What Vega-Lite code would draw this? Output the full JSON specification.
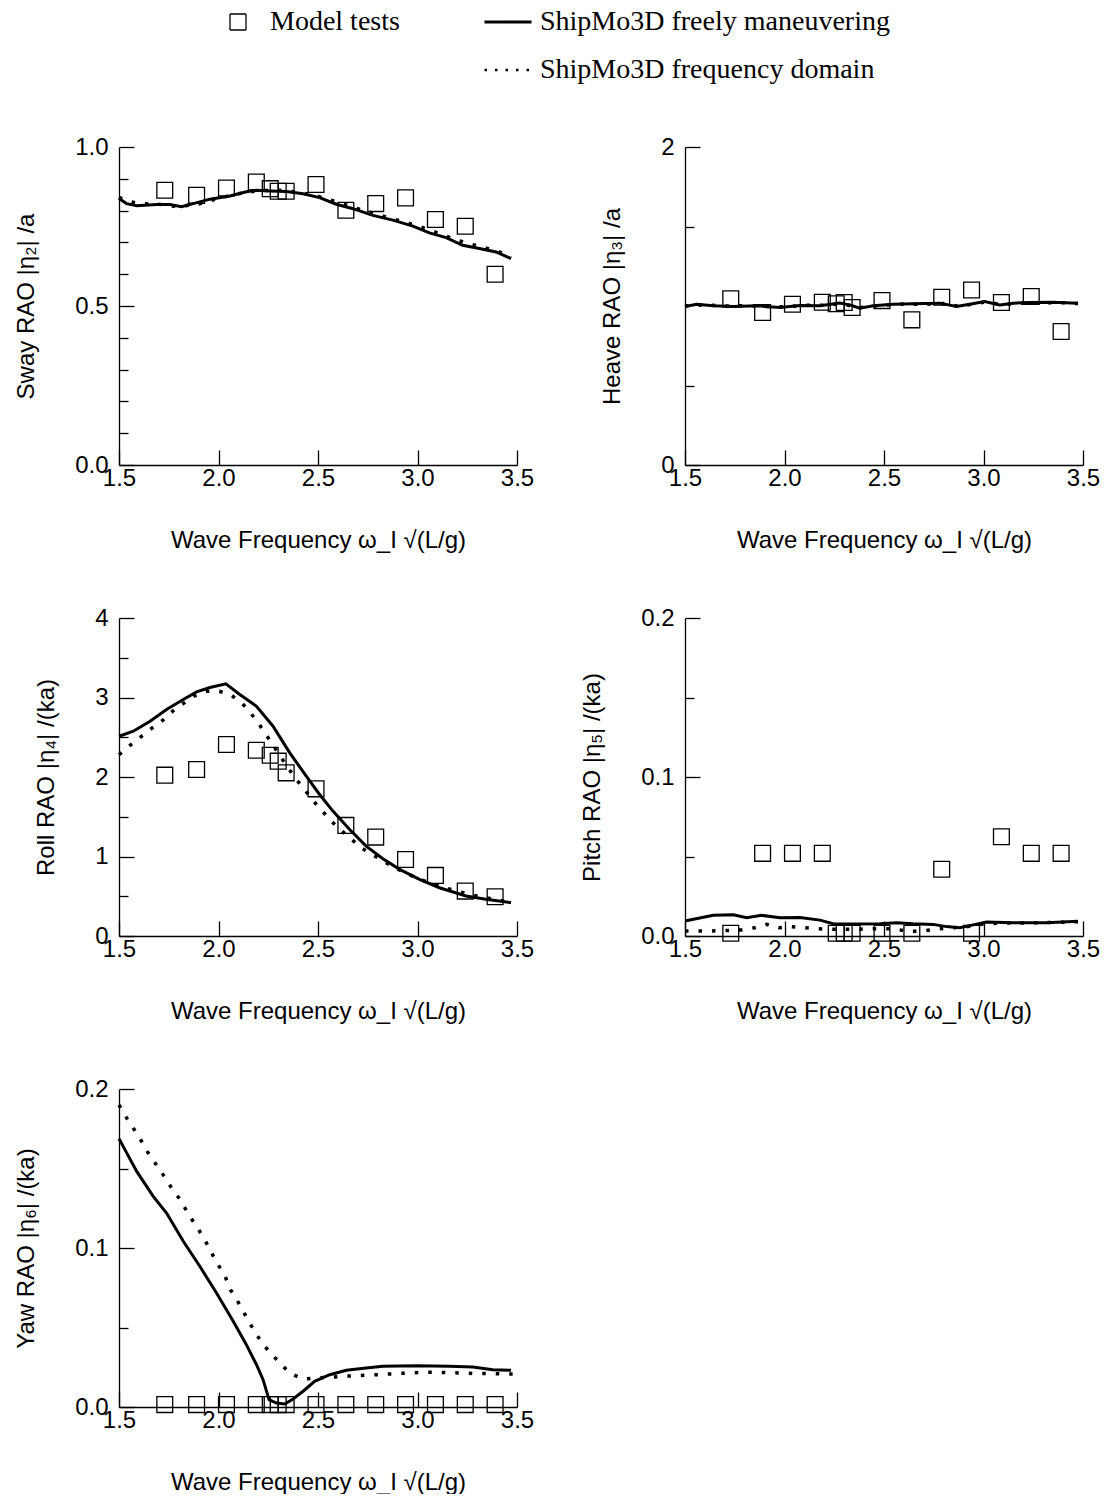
{
"$schema": "https://vega.github.io/schema/vega-lite/v6.json",
"padding": {"left": 14, "top": 8, "right": 5, "bottom": 0},
"background": "white",
"data": {"values": [
{"p":"sway","s":"M","x":1.73,"y":0.864},{"p":"sway","s":"M","x":1.89,"y":0.848},{"p":"sway","s":"M","x":2.04,"y":0.871},{"p":"sway","s":"M","x":2.19,"y":0.89},{"p":"sway","s":"M","x":2.26,"y":0.869},{"p":"sway","s":"M","x":2.3,"y":0.861},{"p":"sway","s":"M","x":2.34,"y":0.861},{"p":"sway","s":"M","x":2.49,"y":0.882},{"p":"sway","s":"M","x":2.64,"y":0.801},{"p":"sway","s":"M","x":2.79,"y":0.822},{"p":"sway","s":"M","x":2.94,"y":0.84},{"p":"sway","s":"M","x":3.09,"y":0.772},{"p":"sway","s":"M","x":3.24,"y":0.751},{"p":"sway","s":"M","x":3.39,"y":0.6},
{"p":"sway","s":"F","x":1.5,"y":0.838},{"p":"sway","s":"F","x":1.538,"y":0.822},{"p":"sway","s":"F","x":1.589,"y":0.815},{"p":"sway","s":"F","x":1.689,"y":0.819},{"p":"sway","s":"F","x":1.756,"y":0.819},{"p":"sway","s":"F","x":1.814,"y":0.812},{"p":"sway","s":"F","x":1.873,"y":0.822},{"p":"sway","s":"F","x":1.957,"y":0.836},{"p":"sway","s":"F","x":2.057,"y":0.846},{"p":"sway","s":"F","x":2.14,"y":0.859},{"p":"sway","s":"F","x":2.191,"y":0.864},{"p":"sway","s":"F","x":2.258,"y":0.862},{"p":"sway","s":"F","x":2.341,"y":0.86},{"p":"sway","s":"F","x":2.425,"y":0.853},{"p":"sway","s":"F","x":2.508,"y":0.841},{"p":"sway","s":"F","x":2.592,"y":0.82},{"p":"sway","s":"F","x":2.676,"y":0.806},{"p":"sway","s":"F","x":2.776,"y":0.785},{"p":"sway","s":"F","x":2.876,"y":0.77},{"p":"sway","s":"F","x":2.977,"y":0.751},{"p":"sway","s":"F","x":3.06,"y":0.73},{"p":"sway","s":"F","x":3.144,"y":0.715},{"p":"sway","s":"F","x":3.227,"y":0.691},{"p":"sway","s":"F","x":3.311,"y":0.681},{"p":"sway","s":"F","x":3.395,"y":0.67},{"p":"sway","s":"F","x":3.47,"y":0.649},
{"p":"sway","s":"D","x":1.5,"y":0.842},{"p":"sway","s":"D","x":1.55,"y":0.829},{"p":"sway","s":"D","x":1.6,"y":0.822},{"p":"sway","s":"D","x":1.7,"y":0.82},{"p":"sway","s":"D","x":1.8,"y":0.812},{"p":"sway","s":"D","x":1.9,"y":0.821},{"p":"sway","s":"D","x":2.0,"y":0.839},{"p":"sway","s":"D","x":2.1,"y":0.853},{"p":"sway","s":"D","x":2.2,"y":0.863},{"p":"sway","s":"D","x":2.3,"y":0.864},{"p":"sway","s":"D","x":2.4,"y":0.858},{"p":"sway","s":"D","x":2.5,"y":0.845},{"p":"sway","s":"D","x":2.6,"y":0.826},{"p":"sway","s":"D","x":2.7,"y":0.806},{"p":"sway","s":"D","x":2.8,"y":0.787},{"p":"sway","s":"D","x":2.9,"y":0.77},{"p":"sway","s":"D","x":3.0,"y":0.752},{"p":"sway","s":"D","x":3.1,"y":0.73},{"p":"sway","s":"D","x":3.2,"y":0.707},{"p":"sway","s":"D","x":3.3,"y":0.689},{"p":"sway","s":"D","x":3.4,"y":0.673},{"p":"sway","s":"D","x":3.47,"y":0.652},
{"p":"heave","s":"M","x":1.73,"y":1.045},{"p":"heave","s":"M","x":1.89,"y":0.959},{"p":"heave","s":"M","x":2.04,"y":1.011},{"p":"heave","s":"M","x":2.19,"y":1.024},{"p":"heave","s":"M","x":2.26,"y":1.014},{"p":"heave","s":"M","x":2.3,"y":1.022},{"p":"heave","s":"M","x":2.34,"y":0.991},{"p":"heave","s":"M","x":2.49,"y":1.034},{"p":"heave","s":"M","x":2.64,"y":0.913},{"p":"heave","s":"M","x":2.79,"y":1.055},{"p":"heave","s":"M","x":2.94,"y":1.101},{"p":"heave","s":"M","x":3.09,"y":1.022},{"p":"heave","s":"M","x":3.24,"y":1.06},{"p":"heave","s":"M","x":3.39,"y":0.84},
{"p":"heave","s":"F","x":1.5,"y":0.997},{"p":"heave","s":"F","x":1.559,"y":1.011},{"p":"heave","s":"F","x":1.642,"y":1.001},{"p":"heave","s":"F","x":1.743,"y":0.997},{"p":"heave","s":"F","x":1.86,"y":1.001},{"p":"heave","s":"F","x":1.977,"y":0.991},{"p":"heave","s":"F","x":2.077,"y":1.003},{"p":"heave","s":"F","x":2.178,"y":1.001},{"p":"heave","s":"F","x":2.278,"y":1.018},{"p":"heave","s":"F","x":2.328,"y":1.007},{"p":"heave","s":"F","x":2.379,"y":0.986},{"p":"heave","s":"F","x":2.446,"y":1.001},{"p":"heave","s":"F","x":2.546,"y":1.011},{"p":"heave","s":"F","x":2.646,"y":1.014},{"p":"heave","s":"F","x":2.78,"y":1.018},{"p":"heave","s":"F","x":2.864,"y":0.997},{"p":"heave","s":"F","x":2.931,"y":1.011},{"p":"heave","s":"F","x":3.006,"y":1.028},{"p":"heave","s":"F","x":3.082,"y":1.007},{"p":"heave","s":"F","x":3.149,"y":1.018},{"p":"heave","s":"F","x":3.232,"y":1.022},{"p":"heave","s":"F","x":3.349,"y":1.024},{"p":"heave","s":"F","x":3.475,"y":1.018},
{"p":"heave","s":"D","x":1.5,"y":1.0},{"p":"heave","s":"D","x":1.6,"y":1.008},{"p":"heave","s":"D","x":1.7,"y":1.0},{"p":"heave","s":"D","x":1.8,"y":1.002},{"p":"heave","s":"D","x":1.9,"y":0.997},{"p":"heave","s":"D","x":2.0,"y":0.995},{"p":"heave","s":"D","x":2.1,"y":1.004},{"p":"heave","s":"D","x":2.2,"y":1.005},{"p":"heave","s":"D","x":2.28,"y":1.014},{"p":"heave","s":"D","x":2.38,"y":0.99},{"p":"heave","s":"D","x":2.5,"y":1.006},{"p":"heave","s":"D","x":2.6,"y":1.012},{"p":"heave","s":"D","x":2.7,"y":1.011},{"p":"heave","s":"D","x":2.8,"y":1.015},{"p":"heave","s":"D","x":2.88,"y":0.998},{"p":"heave","s":"D","x":3.0,"y":1.024},{"p":"heave","s":"D","x":3.1,"y":1.01},{"p":"heave","s":"D","x":3.2,"y":1.018},{"p":"heave","s":"D","x":3.3,"y":1.021},{"p":"heave","s":"D","x":3.4,"y":1.021},{"p":"heave","s":"D","x":3.475,"y":1.015},
{"p":"roll","s":"M","x":1.73,"y":2.023},{"p":"roll","s":"M","x":1.89,"y":2.094},{"p":"roll","s":"M","x":2.04,"y":2.408},{"p":"roll","s":"M","x":2.19,"y":2.337},{"p":"roll","s":"M","x":2.26,"y":2.274},{"p":"roll","s":"M","x":2.3,"y":2.199},{"p":"roll","s":"M","x":2.34,"y":2.052},{"p":"roll","s":"M","x":2.49,"y":1.851},{"p":"roll","s":"M","x":2.64,"y":1.391},{"p":"roll","s":"M","x":2.79,"y":1.244},{"p":"roll","s":"M","x":2.94,"y":0.963},{"p":"roll","s":"M","x":3.09,"y":0.762},{"p":"roll","s":"M","x":3.24,"y":0.565},{"p":"roll","s":"M","x":3.39,"y":0.494},
{"p":"roll","s":"F","x":1.5,"y":2.513},{"p":"roll","s":"F","x":1.572,"y":2.576},{"p":"roll","s":"F","x":1.656,"y":2.702},{"p":"roll","s":"F","x":1.739,"y":2.848},{"p":"roll","s":"F","x":1.823,"y":2.974},{"p":"roll","s":"F","x":1.89,"y":3.07},{"p":"roll","s":"F","x":1.957,"y":3.125},{"p":"roll","s":"F","x":2.037,"y":3.171},{"p":"roll","s":"F","x":2.107,"y":3.037},{"p":"roll","s":"F","x":2.191,"y":2.89},{"p":"roll","s":"F","x":2.274,"y":2.639},{"p":"roll","s":"F","x":2.358,"y":2.304},{"p":"roll","s":"F","x":2.441,"y":2.01},{"p":"roll","s":"F","x":2.508,"y":1.78},{"p":"roll","s":"F","x":2.575,"y":1.571},{"p":"roll","s":"F","x":2.659,"y":1.34},{"p":"roll","s":"F","x":2.742,"y":1.131},{"p":"roll","s":"F","x":2.826,"y":0.972},{"p":"roll","s":"F","x":2.91,"y":0.838},{"p":"roll","s":"F","x":3.01,"y":0.712},{"p":"roll","s":"F","x":3.11,"y":0.607},{"p":"roll","s":"F","x":3.244,"y":0.503},{"p":"roll","s":"F","x":3.344,"y":0.461},{"p":"roll","s":"F","x":3.47,"y":0.419},
{"p":"roll","s":"D","x":1.5,"y":2.28},{"p":"roll","s":"D","x":1.563,"y":2.413},{"p":"roll","s":"D","x":1.616,"y":2.518},{"p":"roll","s":"D","x":1.67,"y":2.623},{"p":"roll","s":"D","x":1.724,"y":2.72},{"p":"roll","s":"D","x":1.772,"y":2.833},{"p":"roll","s":"D","x":1.826,"y":2.93},{"p":"roll","s":"D","x":1.88,"y":3.022},{"p":"roll","s":"D","x":1.942,"y":3.078},{"p":"roll","s":"D","x":2.005,"y":3.078},{"p":"roll","s":"D","x":2.068,"y":3.022},{"p":"roll","s":"D","x":2.121,"y":2.921},{"p":"roll","s":"D","x":2.166,"y":2.791},{"p":"roll","s":"D","x":2.207,"y":2.653},{"p":"roll","s":"D","x":2.243,"y":2.518},{"p":"roll","s":"D","x":2.282,"y":2.371},{"p":"roll","s":"D","x":2.318,"y":2.233},{"p":"roll","s":"D","x":2.354,"y":2.099},{"p":"roll","s":"D","x":2.39,"y":1.973},{"p":"roll","s":"D","x":2.435,"y":1.834},{"p":"roll","s":"D","x":2.476,"y":1.7},{"p":"roll","s":"D","x":2.521,"y":1.574},{"p":"roll","s":"D","x":2.565,"y":1.448},{"p":"roll","s":"D","x":2.614,"y":1.335},{"p":"roll","s":"D","x":2.664,"y":1.226},{"p":"roll","s":"D","x":2.716,"y":1.112},{"p":"roll","s":"D","x":2.769,"y":1.028},{"p":"roll","s":"D","x":2.829,"y":0.944},{"p":"roll","s":"D","x":2.882,"y":0.86},{"p":"roll","s":"D","x":2.945,"y":0.789},{"p":"roll","s":"D","x":3.008,"y":0.714},{"p":"roll","s":"D","x":3.07,"y":0.663},{"p":"roll","s":"D","x":3.133,"y":0.609},{"p":"roll","s":"D","x":3.196,"y":0.567},{"p":"roll","s":"D","x":3.267,"y":0.52},{"p":"roll","s":"D","x":3.339,"y":0.483},{"p":"roll","s":"D","x":3.411,"y":0.449},{"p":"roll","s":"D","x":3.47,"y":0.42},
{"p":"pitch","s":"M","x":1.73,"y":0.0017},{"p":"pitch","s":"M","x":1.89,"y":0.052},{"p":"pitch","s":"M","x":2.04,"y":0.052},{"p":"pitch","s":"M","x":2.19,"y":0.052},{"p":"pitch","s":"M","x":2.26,"y":0.0017},{"p":"pitch","s":"M","x":2.3,"y":0.0017},{"p":"pitch","s":"M","x":2.34,"y":0.0017},{"p":"pitch","s":"M","x":2.49,"y":0.0017},{"p":"pitch","s":"M","x":2.64,"y":0.0017},{"p":"pitch","s":"M","x":2.79,"y":0.042},{"p":"pitch","s":"M","x":2.94,"y":0.0017},{"p":"pitch","s":"M","x":3.09,"y":0.0624},{"p":"pitch","s":"M","x":3.24,"y":0.052},{"p":"pitch","s":"M","x":3.39,"y":0.052},
{"p":"pitch","s":"F","x":1.5,"y":0.0094},{"p":"pitch","s":"F","x":1.642,"y":0.013},{"p":"pitch","s":"F","x":1.743,"y":0.0134},{"p":"pitch","s":"F","x":1.81,"y":0.0115},{"p":"pitch","s":"F","x":1.885,"y":0.013},{"p":"pitch","s":"F","x":1.977,"y":0.0115},{"p":"pitch","s":"F","x":2.077,"y":0.0117},{"p":"pitch","s":"F","x":2.178,"y":0.01},{"p":"pitch","s":"F","x":2.245,"y":0.0077},{"p":"pitch","s":"F","x":2.362,"y":0.0075},{"p":"pitch","s":"F","x":2.479,"y":0.0077},{"p":"pitch","s":"F","x":2.563,"y":0.0084},{"p":"pitch","s":"F","x":2.646,"y":0.0077},{"p":"pitch","s":"F","x":2.747,"y":0.0073},{"p":"pitch","s":"F","x":2.814,"y":0.0059},{"p":"pitch","s":"F","x":2.881,"y":0.0052},{"p":"pitch","s":"F","x":2.948,"y":0.007},{"p":"pitch","s":"F","x":3.015,"y":0.0088},{"p":"pitch","s":"F","x":3.149,"y":0.0084},{"p":"pitch","s":"F","x":3.316,"y":0.0084},{"p":"pitch","s":"F","x":3.475,"y":0.0092},
{"p":"pitch","s":"D","x":1.5,"y":0.0031},{"p":"pitch","s":"D","x":1.6,"y":0.0031},{"p":"pitch","s":"D","x":1.7,"y":0.0034},{"p":"pitch","s":"D","x":1.78,"y":0.0038},{"p":"pitch","s":"D","x":1.85,"y":0.0052},{"p":"pitch","s":"D","x":1.91,"y":0.0073},{"p":"pitch","s":"D","x":1.97,"y":0.0052},{"p":"pitch","s":"D","x":2.03,"y":0.0059},{"p":"pitch","s":"D","x":2.1,"y":0.0052},{"p":"pitch","s":"D","x":2.16,"y":0.0046},{"p":"pitch","s":"D","x":2.25,"y":0.0042},{"p":"pitch","s":"D","x":2.35,"y":0.0042},{"p":"pitch","s":"D","x":2.45,"y":0.0046},{"p":"pitch","s":"D","x":2.55,"y":0.0046},{"p":"pitch","s":"D","x":2.62,"y":0.0028},{"p":"pitch","s":"D","x":2.7,"y":0.0032},{"p":"pitch","s":"D","x":2.78,"y":0.0046},{"p":"pitch","s":"D","x":2.85,"y":0.0052},{"p":"pitch","s":"D","x":2.92,"y":0.0059},{"p":"pitch","s":"D","x":3.0,"y":0.0075},{"p":"pitch","s":"D","x":3.1,"y":0.0082},{"p":"pitch","s":"D","x":3.2,"y":0.0082},{"p":"pitch","s":"D","x":3.3,"y":0.0084},{"p":"pitch","s":"D","x":3.4,"y":0.0086},{"p":"pitch","s":"D","x":3.475,"y":0.009},
{"p":"yaw","s":"M","x":1.73,"y":0.0015},{"p":"yaw","s":"M","x":1.89,"y":0.0015},{"p":"yaw","s":"M","x":2.04,"y":0.0015},{"p":"yaw","s":"M","x":2.19,"y":0.0015},{"p":"yaw","s":"M","x":2.26,"y":0.0015},{"p":"yaw","s":"M","x":2.3,"y":0.0015},{"p":"yaw","s":"M","x":2.34,"y":0.0015},{"p":"yaw","s":"M","x":2.49,"y":0.0015},{"p":"yaw","s":"M","x":2.64,"y":0.0015},{"p":"yaw","s":"M","x":2.79,"y":0.0015},{"p":"yaw","s":"M","x":2.94,"y":0.0015},{"p":"yaw","s":"M","x":3.09,"y":0.0015},{"p":"yaw","s":"M","x":3.24,"y":0.0015},{"p":"yaw","s":"M","x":3.39,"y":0.0015},
{"p":"yaw","s":"F","x":1.5,"y":0.1688},{"p":"yaw","s":"F","x":1.589,"y":0.1482},{"p":"yaw","s":"F","x":1.672,"y":0.1325},{"p":"yaw","s":"F","x":1.739,"y":0.122},{"p":"yaw","s":"F","x":1.823,"y":0.1042},{"p":"yaw","s":"F","x":1.906,"y":0.0885},{"p":"yaw","s":"F","x":1.99,"y":0.0717},{"p":"yaw","s":"F","x":2.074,"y":0.0539},{"p":"yaw","s":"F","x":2.14,"y":0.0392},{"p":"yaw","s":"F","x":2.191,"y":0.0266},{"p":"yaw","s":"F","x":2.224,"y":0.0172},{"p":"yaw","s":"F","x":2.254,"y":0.0046},{"p":"yaw","s":"F","x":2.291,"y":0.0025},{"p":"yaw","s":"F","x":2.333,"y":0.0019},{"p":"yaw","s":"F","x":2.375,"y":0.005},{"p":"yaw","s":"F","x":2.425,"y":0.0099},{"p":"yaw","s":"F","x":2.483,"y":0.0161},{"p":"yaw","s":"F","x":2.559,"y":0.0203},{"p":"yaw","s":"F","x":2.642,"y":0.0231},{"p":"yaw","s":"F","x":2.742,"y":0.0245},{"p":"yaw","s":"F","x":2.826,"y":0.0256},{"p":"yaw","s":"F","x":2.993,"y":0.026},{"p":"yaw","s":"F","x":3.161,"y":0.0256},{"p":"yaw","s":"F","x":3.278,"y":0.0252},{"p":"yaw","s":"F","x":3.378,"y":0.0235},{"p":"yaw","s":"F","x":3.47,"y":0.0231},
{"p":"yaw","s":"D","x":1.5,"y":0.19},{"p":"yaw","s":"D","x":1.538,"y":0.1818},{"p":"yaw","s":"D","x":1.577,"y":0.1744},{"p":"yaw","s":"D","x":1.614,"y":0.167},{"p":"yaw","s":"D","x":1.647,"y":0.1597},{"p":"yaw","s":"D","x":1.684,"y":0.153},{"p":"yaw","s":"D","x":1.722,"y":0.146},{"p":"yaw","s":"D","x":1.759,"y":0.1388},{"p":"yaw","s":"D","x":1.798,"y":0.132},{"p":"yaw","s":"D","x":1.831,"y":0.1252},{"p":"yaw","s":"D","x":1.865,"y":0.1182},{"p":"yaw","s":"D","x":1.903,"y":0.111},{"p":"yaw","s":"D","x":1.935,"y":0.1042},{"p":"yaw","s":"D","x":1.965,"y":0.0969},{"p":"yaw","s":"D","x":1.998,"y":0.0895},{"p":"yaw","s":"D","x":2.032,"y":0.0826},{"p":"yaw","s":"D","x":2.06,"y":0.0738},{"p":"yaw","s":"D","x":2.094,"y":0.0671},{"p":"yaw","s":"D","x":2.124,"y":0.0602},{"p":"yaw","s":"D","x":2.157,"y":0.0528},{"p":"yaw","s":"D","x":2.191,"y":0.0455},{"p":"yaw","s":"D","x":2.232,"y":0.0382},{"p":"yaw","s":"D","x":2.274,"y":0.0323},{"p":"yaw","s":"D","x":2.32,"y":0.026},{"p":"yaw","s":"D","x":2.366,"y":0.0208},{"p":"yaw","s":"D","x":2.425,"y":0.0176},{"p":"yaw","s":"D","x":2.492,"y":0.0182},{"p":"yaw","s":"D","x":2.559,"y":0.0187},{"p":"yaw","s":"D","x":2.625,"y":0.0193},{"p":"yaw","s":"D","x":2.692,"y":0.0197},{"p":"yaw","s":"D","x":2.759,"y":0.0201},{"p":"yaw","s":"D","x":2.826,"y":0.0205},{"p":"yaw","s":"D","x":2.893,"y":0.021},{"p":"yaw","s":"D","x":2.96,"y":0.0214},{"p":"yaw","s":"D","x":3.027,"y":0.0218},{"p":"yaw","s":"D","x":3.094,"y":0.0218},{"p":"yaw","s":"D","x":3.161,"y":0.0216},{"p":"yaw","s":"D","x":3.227,"y":0.0214},{"p":"yaw","s":"D","x":3.294,"y":0.021},{"p":"yaw","s":"D","x":3.361,"y":0.021},{"p":"yaw","s":"D","x":3.428,"y":0.0208},{"p":"yaw","s":"D","x":3.478,"y":0.0208}
]},
"columns": 2,
"spacing": {"row": 153, "column": 168},
"bounds": "flush",
"resolve": {"scale": {"color": "shared"}, "legend": {"color": "shared"}},
"concat": [
{
 "width": 398, "height": 318,
 "transform": [{"filter": "datum.p === 'sway'"}],
 "encoding": {
  "x": {"field": "x", "type": "quantitative", "scale": {"domain": [1.5, 3.5], "nice": false, "zero": false}, "axis": {"values": [1.5, 2, 2.5, 3, 3.5], "format": ".1f", "tickSize": -15, "labelPadding": 16, "title": "Wave Frequency ω_I √(L/g)", "titleFontSize": 24, "titlePadding": 38}},
  "color": {"field": "s", "type": "nominal", "scale": {"domain": ["M", "_", "F", "D"], "range": ["black", "white", "black", "black"]},
   "legend": {"orient": "none", "legendX": 105, "legendY": -139, "columns": 2, "columnPadding": 78, "rowPadding": 20, "title": null,
    "symbolSize": 2209, "symbolType": "stroke", "labelOffset": 18, "labelLimit": 0,
    "labelExpr": "datum.value === 'M' ? 'Model tests' : datum.value === 'F' ? 'ShipMo3D freely maneuvering' : datum.value === 'D' ? 'ShipMo3D frequency domain' : ''",
    "encode": {"symbols": {"update": {
      "shape": {"signal": "datum.value === 'M' ? 'square' : 'stroke'"},
      "size": {"signal": "datum.value === 'M' ? 256 : 2209"},
      "strokeWidth": {"signal": "datum.value === 'M' ? 1.3 : datum.value === 'D' ? 2.5 : 3"},
      "strokeDash": {"signal": "datum.value === 'D' ? [2.5, 8] : [1, 0]"},
      "fill": {"value": "transparent"},
      "opacity": {"value": 1}
    }}}}}
 },
 "layer": [
  {"transform": [{"filter": "datum.s === 'D'"}], "mark": {"type": "line", "strokeWidth": 3.5, "strokeDash": [3.5, 10]}, "encoding": {"y": {"field": "y", "type": "quantitative", "scale": {"domain": [0, 1], "nice": false}, "axis": null}}},
  {"transform": [{"filter": "datum.s === 'F'"}], "mark": {"type": "line", "strokeWidth": 3}, "encoding": {"y": {"field": "y", "type": "quantitative", "scale": {"domain": [0, 1], "nice": false}, "axis": null}}},
  {"transform": [{"filter": "datum.s === 'M'"}], "mark": {"type": "point", "shape": "square", "filled": false, "size": 250, "strokeWidth": 1.3, "opacity": 1}, "encoding": {"y": {"field": "y", "type": "quantitative", "scale": {"domain": [0, 1], "nice": false}, "axis": {"orient": "left", "values": [0, 0.5, 1], "format": ".1f", "tickSize": -15, "labelPadding": 26, "title": "Sway RAO |η₂| /a", "titleFontSize": 24, "titlePadding": 36}}}},
  {"mark": {"type": "point", "opacity": 0}, "encoding": {"y": {"field": "y", "type": "quantitative", "scale": {"domain": [0, 1], "nice": false}, "axis": {"orient": "left", "values": [0.1, 0.2, 0.3, 0.4, 0.6, 0.7, 0.8, 0.9], "labels": false, "domain": false, "tickSize": -9, "title": null}}}}
 ],
 "resolve": {"axis": {"y": "independent"}}
},
{
 "width": 398, "height": 318,
 "transform": [{"filter": "datum.p === 'heave'"}],
 "encoding": {
  "x": {"field": "x", "type": "quantitative", "scale": {"domain": [1.5, 3.5], "nice": false, "zero": false}, "axis": {"values": [1.5, 2, 2.5, 3, 3.5], "format": ".1f", "tickSize": -15, "labelPadding": 16, "title": "Wave Frequency ω_I √(L/g)", "titleFontSize": 24, "titlePadding": 38}},
  "color": {"field": "s", "type": "nominal", "scale": {"domain": ["M", "_", "F", "D"], "range": ["black", "white", "black", "black"]}}
 },
 "layer": [
  {"transform": [{"filter": "datum.s === 'D'"}], "mark": {"type": "line", "strokeWidth": 3.5, "strokeDash": [3.5, 10]}, "encoding": {"y": {"field": "y", "type": "quantitative", "scale": {"domain": [0, 2], "nice": false}, "axis": null}}},
  {"transform": [{"filter": "datum.s === 'F'"}], "mark": {"type": "line", "strokeWidth": 3}, "encoding": {"y": {"field": "y", "type": "quantitative", "scale": {"domain": [0, 2], "nice": false}, "axis": null}}},
  {"transform": [{"filter": "datum.s === 'M'"}], "mark": {"type": "point", "shape": "square", "filled": false, "size": 250, "strokeWidth": 1.3, "opacity": 1}, "encoding": {"y": {"field": "y", "type": "quantitative", "scale": {"domain": [0, 2], "nice": false}, "axis": {"orient": "left", "values": [0, 1, 2], "format": "d", "tickSize": -15, "labelPadding": 26, "title": "Heave RAO |η₃| /a", "titleFontSize": 24, "titlePadding": 36}}}},
  {"mark": {"type": "point", "opacity": 0}, "encoding": {"y": {"field": "y", "type": "quantitative", "scale": {"domain": [0, 2], "nice": false}, "axis": {"orient": "left", "values": [0.5, 1.5], "labels": false, "domain": false, "tickSize": -9, "title": null}}}}
 ],
 "resolve": {"axis": {"y": "independent"}}
},
{
 "width": 398, "height": 318,
 "transform": [{"filter": "datum.p === 'roll'"}],
 "encoding": {
  "x": {"field": "x", "type": "quantitative", "scale": {"domain": [1.5, 3.5], "nice": false, "zero": false}, "axis": {"values": [1.5, 2, 2.5, 3, 3.5], "format": ".1f", "tickSize": -15, "labelPadding": 16, "title": "Wave Frequency ω_I √(L/g)", "titleFontSize": 24, "titlePadding": 38}},
  "color": {"field": "s", "type": "nominal", "scale": {"domain": ["M", "_", "F", "D"], "range": ["black", "white", "black", "black"]}}
 },
 "layer": [
  {"transform": [{"filter": "datum.s === 'D'"}], "mark": {"type": "line", "strokeWidth": 3.5, "strokeDash": [3.5, 10]}, "encoding": {"y": {"field": "y", "type": "quantitative", "scale": {"domain": [0, 4], "nice": false}, "axis": null}}},
  {"transform": [{"filter": "datum.s === 'F'"}], "mark": {"type": "line", "strokeWidth": 3}, "encoding": {"y": {"field": "y", "type": "quantitative", "scale": {"domain": [0, 4], "nice": false}, "axis": null}}},
  {"transform": [{"filter": "datum.s === 'M'"}], "mark": {"type": "point", "shape": "square", "filled": false, "size": 250, "strokeWidth": 1.3, "opacity": 1}, "encoding": {"y": {"field": "y", "type": "quantitative", "scale": {"domain": [0, 4], "nice": false}, "axis": {"orient": "left", "values": [0, 1, 2, 3, 4], "format": "d", "tickSize": -15, "labelPadding": 26, "title": "Roll RAO |η₄| /(ka)", "titleFontSize": 24, "titlePadding": 36}}}},
  {"mark": {"type": "point", "opacity": 0}, "encoding": {"y": {"field": "y", "type": "quantitative", "scale": {"domain": [0, 4], "nice": false}, "axis": {"orient": "left", "values": [0.5, 1.5, 2.5, 3.5], "labels": false, "domain": false, "tickSize": -9, "title": null}}}}
 ],
 "resolve": {"axis": {"y": "independent"}}
},
{
 "width": 398, "height": 318,
 "transform": [{"filter": "datum.p === 'pitch'"}],
 "encoding": {
  "x": {"field": "x", "type": "quantitative", "scale": {"domain": [1.5, 3.5], "nice": false, "zero": false}, "axis": {"values": [1.5, 2, 2.5, 3, 3.5], "format": ".1f", "tickSize": -15, "labelPadding": 16, "title": "Wave Frequency ω_I √(L/g)", "titleFontSize": 24, "titlePadding": 38}},
  "color": {"field": "s", "type": "nominal", "scale": {"domain": ["M", "_", "F", "D"], "range": ["black", "white", "black", "black"]}}
 },
 "layer": [
  {"transform": [{"filter": "datum.s === 'D'"}], "mark": {"type": "line", "strokeWidth": 3.5, "strokeDash": [3.5, 10]}, "encoding": {"y": {"field": "y", "type": "quantitative", "scale": {"domain": [0, 0.2], "nice": false}, "axis": null}}},
  {"transform": [{"filter": "datum.s === 'F'"}], "mark": {"type": "line", "strokeWidth": 3}, "encoding": {"y": {"field": "y", "type": "quantitative", "scale": {"domain": [0, 0.2], "nice": false}, "axis": null}}},
  {"transform": [{"filter": "datum.s === 'M'"}], "mark": {"type": "point", "shape": "square", "filled": false, "size": 250, "strokeWidth": 1.3, "opacity": 1}, "encoding": {"y": {"field": "y", "type": "quantitative", "scale": {"domain": [0, 0.2], "nice": false}, "axis": {"orient": "left", "values": [0, 0.1, 0.2], "format": ".1f", "tickSize": -15, "labelPadding": 26, "title": "Pitch RAO |η₅| /(ka)", "titleFontSize": 24, "titlePadding": 36}}}},
  {"mark": {"type": "point", "opacity": 0}, "encoding": {"y": {"field": "y", "type": "quantitative", "scale": {"domain": [0, 0.2], "nice": false}, "axis": {"orient": "left", "values": [0.05, 0.15], "labels": false, "domain": false, "tickSize": -9, "title": null}}}}
 ],
 "resolve": {"axis": {"y": "independent"}}
},
{
 "width": 398, "height": 318,
 "transform": [{"filter": "datum.p === 'yaw'"}],
 "encoding": {
  "x": {"field": "x", "type": "quantitative", "scale": {"domain": [1.5, 3.5], "nice": false, "zero": false}, "axis": {"values": [1.5, 2, 2.5, 3, 3.5], "format": ".1f", "tickSize": -15, "labelPadding": 16, "title": "Wave Frequency ω_I √(L/g)", "titleFontSize": 24, "titlePadding": 38}},
  "color": {"field": "s", "type": "nominal", "scale": {"domain": ["M", "_", "F", "D"], "range": ["black", "white", "black", "black"]}}
 },
 "layer": [
  {"transform": [{"filter": "datum.s === 'D'"}], "mark": {"type": "line", "strokeWidth": 3.5, "strokeDash": [3.5, 10]}, "encoding": {"y": {"field": "y", "type": "quantitative", "scale": {"domain": [0, 0.2], "nice": false}, "axis": null}}},
  {"transform": [{"filter": "datum.s === 'F'"}], "mark": {"type": "line", "strokeWidth": 3}, "encoding": {"y": {"field": "y", "type": "quantitative", "scale": {"domain": [0, 0.2], "nice": false}, "axis": null}}},
  {"transform": [{"filter": "datum.s === 'M'"}], "mark": {"type": "point", "shape": "square", "filled": false, "size": 250, "strokeWidth": 1.3, "opacity": 1}, "encoding": {"y": {"field": "y", "type": "quantitative", "scale": {"domain": [0, 0.2], "nice": false}, "axis": {"orient": "left", "values": [0, 0.1, 0.2], "format": ".1f", "tickSize": -15, "labelPadding": 26, "title": "Yaw RAO |η₆| /(ka)", "titleFontSize": 24, "titlePadding": 36}}}},
  {"mark": {"type": "point", "opacity": 0}, "encoding": {"y": {"field": "y", "type": "quantitative", "scale": {"domain": [0, 0.2], "nice": false}, "axis": {"orient": "left", "values": [0.05, 0.15], "labels": false, "domain": false, "tickSize": -9, "title": null}}}}
 ],
 "resolve": {"axis": {"y": "independent"}}
}
],
"config": {
 "view": {"stroke": null},
 "axis": {"labelFont": "Liberation Sans", "labelFontSize": 24, "labelColor": "black", "titleFont": "Liberation Sans", "titleFontWeight": "normal", "titleColor": "black", "domainColor": "black", "tickColor": "black", "domainWidth": 1.3, "tickWidth": 1.3, "grid": false, "labelFlush": false, "labelOverlap": false},
 "legend": {"labelFont": "Liberation Serif", "labelFontSize": 28, "labelColor": "black"}
}
}
